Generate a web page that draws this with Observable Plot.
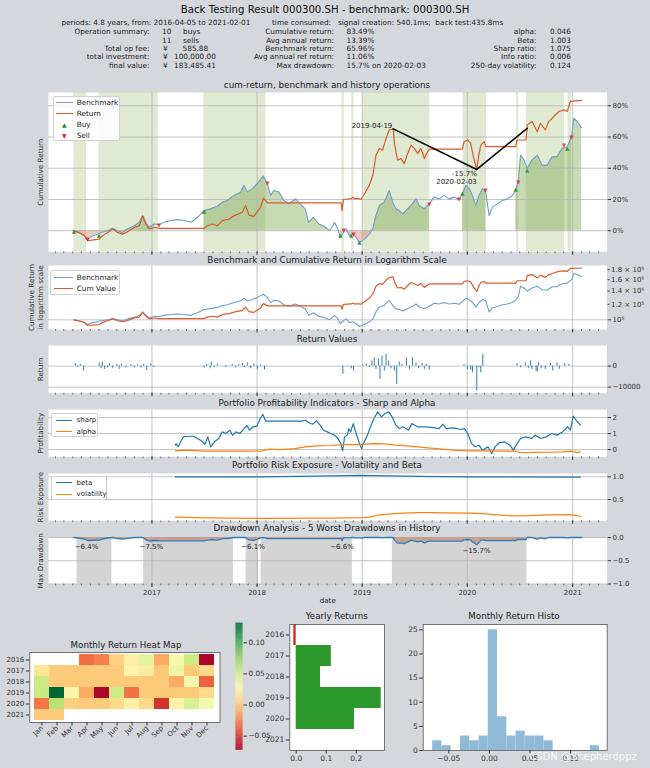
<!DOCTYPE html>
<html><head><meta charset="utf-8">
<script src="https://cdn.jsdelivr.net/npm/d3@7"></script>
<script src="https://cdn.jsdelivr.net/npm/@observablehq/plot@0.6"></script>
<style>
body{margin:0;background:#d4d7dc;}
#root{position:relative;width:650px;height:768px;overflow:hidden;font-family:"DejaVu Sans",sans-serif;color:#222;background:#d4d7dc;}
.t{position:absolute;white-space:pre;line-height:1;}
.lg{position:absolute;background:rgba(255,255,255,0.85);border:1px solid #d0d0d0;border-radius:2px;box-sizing:border-box;}
.lg .ln{position:absolute;height:0;}
svg{overflow:visible;}
</style></head><body><div id="root"></div><script>
// ---------------- DATA ----------------
const benchData = [["2016-04-05",0],["2016-04-18",-0.011],["2016-05-06",-0.022],["2016-05-23",-0.054],["2016-06-09",-0.032],["2016-06-21",-0.026],["2016-07-08",-0.011],["2016-07-31",0],["2016-08-18",0.015],["2016-09-04",0],["2016-09-21",-0.011],["2016-10-09",0.011],["2016-11-01",0.032],["2016-11-18",0.054],["2016-11-30",0.097],["2016-12-11",0.054],["2016-12-22",0.022],["2017-01-09",0.043],["2017-01-26",0.039],["2017-02-12",0.054],["2017-03-07",0.065],["2017-03-31",0.071],["2017-04-23",0.065],["2017-05-16",0.054],["2017-06-08",0.086],["2017-07-01",0.129],["2017-07-24",0.14],["2017-08-16",0.157],["2017-09-03",0.183],["2017-09-20",0.194],["2017-10-13",0.226],["2017-11-05",0.247],["2017-11-17",0.29],["2017-11-28",0.247],["2017-12-16",0.269],["2018-01-02",0.301],["2018-01-23",0.35],["2018-02-06",0.301],["2018-02-17",0.226],["2018-03-01",0.258],["2018-03-18",0.247],["2018-04-04",0.194],["2018-04-21",0.172],["2018-05-14",0.204],["2018-05-31",0.172],["2018-06-17",0.14],["2018-06-29",0.054],["2018-07-16",0.086],["2018-08-03",0.043],["2018-08-20",0.032],["2018-09-10",0],["2018-09-21",0.032],["2018-09-27",0.054],["2018-10-09",0.011],["2018-10-17",-0.043],["2018-10-28",-0.011],["2018-11-06",0.011],["2018-11-18",-0.032],["2018-11-29",-0.022],["2018-12-11",-0.043],["2018-12-22",-0.075],["2019-01-09",-0.054],["2019-01-26",-0.022],["2019-02-07",0.011],["2019-02-18",0.097],["2019-03-02",0.161],["2019-03-19",0.183],["2019-04-05",0.258],["2019-04-17",0.183],["2019-04-28",0.14],["2019-05-10",0.129],["2019-05-22",0.108],["2019-06-08",0.14],["2019-06-25",0.172],["2019-07-07",0.204],["2019-07-18",0.161],["2019-08-05",0.14],["2019-08-22",0.172],["2019-09-08",0.215],["2019-09-26",0.204],["2019-10-13",0.226],["2019-10-30",0.204],["2019-11-17",0.215],["2019-12-04",0.2],["2019-12-15",0.237],["2019-12-27",0.29],["2020-01-08",0.269],["2020-01-19",0.226],["2020-01-31",0.161],["2020-02-11",0.226],["2020-02-23",0.269],["2020-03-05",0.247],["2020-03-17",0.097],["2020-03-28",0.15],["2020-04-15",0.172],["2020-05-02",0.194],["2020-05-19",0.204],["2020-06-06",0.226],["2020-06-17",0.258],["2020-06-26",0.312],["2020-07-04",0.484],["2020-07-16",0.452],["2020-07-27",0.398],["2020-08-13",0.452],["2020-08-31",0.484],["2020-09-17",0.419],["2020-10-04",0.419],["2020-10-22",0.473],["2020-11-08",0.473],["2020-11-25",0.527],["2020-12-13",0.538],["2020-12-28",0.602],["2021-01-05",0.72],["2021-01-17",0.699],["2021-02-01",0.66]];

const returnData = [["2016-04-05",0],["2016-04-23",-0.011],["2016-05-11",-0.032],["2016-05-23",-0.064],["2016-07-02",-0.054],["2016-07-13",-0.032],["2016-07-31",-0.011],["2016-08-18",0.011],["2016-09-04",-0.011],["2016-09-21",-0.022],["2016-10-09",-0.006],["2016-11-01",0.022],["2016-11-18",0.032],["2016-11-30",0.093],["2016-12-11",0.043],["2016-12-22",0.011],["2017-01-09",0.022],["2017-01-26",0.015],["2017-07-01",0.015],["2017-07-12",0.032],["2017-07-30",0.043],["2017-08-16",0.032],["2017-09-03",0.065],["2017-09-26",0.075],["2017-10-13",0.095],["2017-11-11",0.118],["2017-11-22",0.161],["2017-12-04",0.10],["2017-12-21",0.092],["2018-01-13",0.15],["2018-01-23",0.209],["2018-02-06",0.178],["2018-10-20",0.178],["2018-10-23",0.129],["2018-10-28",0.20],["2018-11-24",0.205],["2018-11-29",0.215],["2018-12-05",0.205],["2018-12-22",0.205],["2018-12-28",0.2],["2019-01-09",0.237],["2019-01-26",0.29],["2019-02-07",0.355],["2019-02-18",0.484],["2019-03-02",0.527],["2019-03-13",0.516],["2019-03-25",0.591],["2019-04-05",0.645],["2019-04-19",0.652],["2019-04-23",0.559],["2019-05-04",0.452],["2019-05-16",0.462],["2019-05-27",0.43],["2019-06-08",0.495],["2019-06-20",0.548],["2019-07-01",0.527],["2019-07-13",0.495],["2019-07-24",0.527],["2019-08-05",0.462],["2019-08-16",0.505],["2019-08-22",0.523],["2019-12-15",0.523],["2019-12-21",0.57],["2020-01-02",0.581],["2020-01-13",0.559],["2020-01-21",0.484],["2020-02-03",0.392],["2020-02-10",0.484],["2020-02-17",0.548],["2020-02-29",0.57],["2020-03-05",0.538],["2020-06-17",0.538],["2020-06-22",0.581],["2020-07-23",0.581],["2020-07-27",0.677],["2020-08-13",0.699],["2020-08-31",0.634],["2020-09-11",0.688],["2020-09-28",0.645],["2020-10-10",0.699],["2020-10-27",0.731],["2020-11-14",0.763],["2020-12-02",0.774],["2020-12-13",0.763],["2020-12-24",0.828],["2021-02-01",0.835]];

const holdPeriods = [["2016-04-05","2016-05-19"],["2016-07-01","2017-01-23"],["2017-06-30","2018-02-01"],["2018-10-23","2018-10-31"],["2018-11-26","2018-12-04"],["2019-01-04","2019-08-24"],["2019-12-17","2020-03-08"],["2020-06-20","2020-06-28"],["2020-07-24","2020-12-04"],["2020-12-16","2020-12-28"]];
const fillPeriods = [["2016-04-05","2017-01-23"],["2017-06-30","2018-09-10"],["2018-10-17","2019-08-24"],["2019-12-15","2020-03-08"],["2020-06-17","2021-02-01"]];
const buyPoints = [["2016-04-05",-0.005],["2016-07-01",-0.032],["2017-07-01",0.123],["2018-10-17",-0.032],["2018-11-24",-0.032],["2018-12-22",-0.075],["2019-12-15",0.237],["2020-06-17",0.265],["2020-07-27",0.39],["2020-12-13",0.53]];
const sellPoints = [["2016-05-23",-0.054],["2017-01-26",0.036],["2018-02-06",0.307],["2018-10-29",0.006],["2018-12-02",-0.02],["2019-08-22",0.17],["2019-12-04",0.2],["2020-03-05",0.26],["2020-06-26",0.31],["2020-12-02",0.545],["2020-12-28",0.6]];
const maxDDPath = [["2019-04-19",0.652],["2020-02-03",0.392],["2020-07-27",0.656]];
const maxDDLabel = ["-15.7%\n2020-02-03"];

const returnSpikes = [["2016-04-10",1270],["2016-04-18",-480],["2016-04-27",790],["2016-05-09",-2380],["2016-07-02",1590],["2016-07-08",-1270],["2016-07-13",1900],["2016-07-21",-1590],["2016-07-31",-790],["2016-08-06",950],["2016-08-18",-1270],["2016-09-01",790],["2016-09-09",-1590],["2016-09-17",950],["2016-10-03",-950],["2016-10-20",790],["2016-11-01",-790],["2016-11-12",630],["2016-11-24",-950],["2016-12-03",790],["2016-12-14",-2220],["2016-12-28",1110],["2017-01-06",-630],["2017-07-01",-950],["2017-07-10",790],["2017-07-22",-1270],["2017-07-26",1900],["2017-08-05",-790],["2017-08-16",950],["2017-09-14",-630],["2017-10-07",790],["2017-10-19",-950],["2017-10-30",630],["2017-11-11",1270],["2017-11-19",-790],["2017-11-28",1590],["2017-12-10",-1270],["2017-12-21",950],["2018-01-02",-1590],["2018-01-13",630],["2018-01-27",-1900],["2018-10-26",-3970],["2018-11-24",-1270],["2018-12-02",-2380],["2019-01-03",630],["2019-01-15",950],["2019-01-26",-630],["2019-02-04",2380],["2019-02-12",3970],["2019-02-18",-1590],["2019-02-27",3170],["2019-03-04",-6350],["2019-03-11",4760],["2019-03-19",-2380],["2019-03-25",5550],["2019-04-03",2380],["2019-04-11",-1270],["2019-04-23",-2380],["2019-05-01",-8730],["2019-05-10",1900],["2019-05-19",790],["2019-06-04",3970],["2019-06-14",-1590],["2019-06-25",3970],["2019-07-07",1590],["2019-07-16",-1270],["2019-07-28",1270],["2019-08-05",-1590],["2019-08-13",790],["2019-08-22",-1900],["2019-12-21",790],["2020-01-02",-1590],["2020-01-13",-1900],["2020-01-19",-3170],["2020-02-03",-11900],["2020-02-10",-790],["2020-02-17",-3170],["2020-02-24",5550],["2020-06-22",1270],["2020-07-04",-790],["2020-07-21",1590],["2020-07-31",-1270],["2020-08-08",2380],["2020-08-13",-1590],["2020-08-27",-2380],["2020-08-31",-2860],["2020-09-05",1590],["2020-09-14",-1270],["2020-09-28",-1590],["2020-10-16",1270],["2020-10-24",-2380],["2020-11-08",1590],["2020-11-16",-1590],["2020-12-05",1270],["2020-12-19",790]];

const sharpData = [["2017-03-23",0.27],["2017-03-26",0.375],["2017-04-02",0.17],["2017-04-11",0.48],["2017-04-20",0.79],["2017-05-06",0.83],["2017-05-25",0.83],["2017-06-07",0.69],["2017-06-19",0.58],["2017-07-04",0.33],["2017-07-14",0.79],["2017-07-24",0.17],["2017-08-06",0.48],["2017-08-21",0.69],["2017-09-02",1.1],["2017-09-15",1.0],["2017-09-28",1.2],["2017-10-08",0.9],["2017-10-20",1.1],["2017-11-02",1.0],["2017-11-17",1.3],["2017-11-27",1.5],["2017-12-06",1.2],["2017-12-18",1.42],["2017-12-31",1.46],["2018-01-12",1.94],["2018-01-21",2.2],["2018-01-31",1.77],["2018-06-06",1.77],["2018-06-18",1.83],["2018-07-01",1.67],["2018-07-13",1.58],["2018-07-26",1.79],["2018-08-08",1.52],["2018-08-20",1.2],["2018-09-02",1.1],["2018-09-14",1.0],["2018-09-27",0.9],["2018-10-09",0.69],["2018-10-19",0.37],["2018-10-25",-0.08],["2018-11-01",0.79],["2018-11-10",0.9],["2018-11-16",1.3],["2018-11-22",1.1],["2018-12-01",1.62],["2018-12-11",1.0],["2018-12-23",0.37],["2018-12-30",0.06],["2019-01-05",0.37],["2019-01-17",0.79],["2019-01-30",1.42],["2019-02-11",1.94],["2019-02-24",2.35],["2019-03-09",2.04],["2019-03-21",2.25],["2019-04-03",2.35],["2019-04-15",2.04],["2019-04-28",1.52],["2019-05-10",1.31],["2019-05-23",1.42],["2019-06-11",1.21],["2019-06-23",1.62],["2019-07-12",1.42],["2019-08-06",1.42],["2019-08-31",1.38],["2019-09-25",1.31],["2019-10-08",1.58],["2019-10-20",1.31],["2019-11-14",1.35],["2019-12-09",1.25],["2019-12-22",1.31],["2020-01-03",1.0],["2020-01-16",0.37],["2020-01-28",0.17],["2020-02-10",0.27],["2020-02-23",-0.04],["2020-03-13",0.17],["2020-03-26",-0.25],["2020-04-07",0.17],["2020-04-20",0.42],["2020-05-09",0.48],["2020-05-28",0.27],["2020-06-09",-0.04],["2020-06-22",0.37],["2020-07-04",0.69],["2020-07-23",0.79],["2020-08-11",0.69],["2020-08-24",0.9],["2020-09-12",0.69],["2020-10-01",0.79],["2020-10-20",1.0],["2020-11-08",0.9],["2020-11-27",1.1],["2020-12-15",1.42],["2020-12-24",1.21],["2021-01-03",2.08],["2021-01-13",1.83],["2021-01-28",1.52]];
const alphaData = [["2017-03-23",-0.08],["2017-04-30",-0.04],["2017-07-02",-0.1],["2017-09-02",-0.1],["2017-12-12",-0.1],["2018-01-19",-0.08],["2018-02-13",0.02],["2018-03-22",0.0],["2018-05-12",0.06],["2018-06-18",0.17],["2018-07-26",0.23],["2018-09-14",0.25],["2018-11-03",0.31],["2018-12-23",0.31],["2019-02-11",0.37],["2019-03-21",0.35],["2019-04-28",0.27],["2019-06-17",0.21],["2019-08-06",0.12],["2019-09-25",0.04],["2019-11-14",-0.04],["2020-01-03",-0.08],["2020-03-07",-0.08],["2020-05-09",-0.1],["2020-06-15",-0.1],["2020-07-04",-0.2],["2020-08-18",-0.18],["2020-10-14",-0.17],["2020-11-27",-0.15],["2020-12-27",-0.1],["2021-01-15",-0.19],["2021-01-28",-0.15]];
const betaData = [["2017-03-23",1.0],["2018-01-06",1.0],["2018-05-12",1.01],["2018-09-14",1.02],["2018-12-23",1.03],["2019-04-03",1.02],["2019-07-20",1.01],["2020-01-03",1.0],["2021-01-28",0.995]];
const volData = [["2017-03-23",0.11],["2017-07-02",0.095],["2018-01-06",0.085],["2018-09-14",0.088],["2019-01-05",0.1],["2019-01-30",0.117],["2019-02-24",0.154],["2019-04-03",0.176],["2019-05-23",0.2],["2019-07-12",0.213],["2019-08-31",0.213],["2019-10-20",0.206],["2020-01-03",0.2],["2020-02-23",0.19],["2020-04-14",0.16],["2020-06-03",0.14],["2020-08-05",0.147],["2020-10-14",0.16],["2020-12-21",0.165],["2021-01-15",0.147],["2021-01-28",0.124]];

const worstDDPeriods = [["2016-04-16","2016-08-15"],["2016-12-03","2017-10-11"],["2017-11-24","2018-01-07"],["2018-01-15","2018-11-28"],["2019-04-16","2020-07-26"]];
const worstDDLabels = [["2016-05-19",-0.064,"−6.4%"],["2016-12-30",-0.075,"−7.5%"],["2017-12-18",-0.061,"−6.1%"],["2018-10-23",-0.066,"−6.6%"],["2020-02-02",-0.157,"−15.7%"]];

const yearTickLabels = ["2017","2018","2019","2020","2021"];
const monthNames = ["Jan","Feb","Mar","Apr","May","Jun","Jul","Aug","Sep","Oct","Nov","Dec"];
const heatYears = ["2016","2017","2018","2019","2020","2021"];
const heat2016 = [null,null,null,-0.032,-0.026,0.003,0.019,0.043,-0.012,0.027,0.054,-0.070];
const heat2017 = [0.013,0,0,0,0,0,0.023,0.017,0,0.039,0,0.007];
const heat2018 = [0.054,0,0,0,0,0,0,0,0,-0.012,0.033,-0.036];
const heat2019 = [0.055,0.131,0.027,-0.012,-0.070,0.053,-0.030,0,0,0,0,0.007];
const heat2020 = [-0.029,0.062,0.003,0,0,0.007,0.020,0.007,-0.052,0.022,0.048,0.033];
const heat2021 = [0,0,null,null,null,null,null,null,null,null,null,null];
const heatColorDomain = [-0.0726, 0.131];

const yearlyYears = ["2016","2017","2018","2019","2020","2021"];
const yearlyValues = [-0.008, 0.117, 0.081, 0.283, 0.194, 0.0];

const histEdges = [-0.0699,-0.0585,-0.0471,-0.0356,-0.0242,-0.0128,-0.0014,0.0100,0.0214,0.0328,0.0442,0.0557,0.0671,0.0785,0.0899,0.1013,0.1128,0.1242,0.1356];
const histCounts = [2,1,0,3,2,3,25,7,3,4,3,3,2,0,0,0,0,1];

// ---------------- HELPERS ----------------
const root = document.getElementById("root");
const D = s => new Date(s);
const pts = arr => arr.map(([d, v]) => ({date: D(d), v}));
function txt(s, x, y, {size = 7.3, anchor = "start", color = "#222", parent = root} = {}) {
  const d = document.createElement("div");
  d.className = "t"; d.textContent = s;
  d.style.fontSize = size + "px"; d.style.left = x + "px"; d.style.top = y + "px"; d.style.color = color;
  const tx = anchor === "middle" ? "-50%" : anchor === "end" ? "-100%" : "0";
  d.style.transform = `translate(${tx},-50%)`;
  parent.append(d);
  return d;
}
function place(svg, left, top) {
  svg.style.position = "absolute"; svg.style.left = left + "px"; svg.style.top = top + "px";
  root.append(svg);
}
function legend(left, top, w, h, items, size = 7.3) {
  const box = document.createElement("div");
  box.className = "lg";
  Object.assign(box.style, {left: left + "px", top: top + "px", width: w + "px", height: h + "px"});
  root.append(box);
  for (const it of items) {
    if (it.kind === "line") {
      const l = document.createElement("div");
      l.className = "ln";
      Object.assign(l.style, {left: it.x0 + "px", width: (it.x1 - it.x0) + "px", top: (it.y - 0.7) + "px", borderTop: `1.4px solid ${it.color}`});
      box.append(l);
    } else {
      txt(it.sym, (it.x0 + it.x1) / 2, it.y, {size: 6, anchor: "middle", color: it.color, parent: box});
    }
    txt(it.label, it.tx, it.y, {size, parent: box});
  }
}

const bench = pts(benchData), ret = pts(returnData);
const start = D("2016-04-05"), end = D("2021-02-01");
const pad = (end - start) * 0.05;
const xDomain = [new Date(+start - pad), new Date(+end + pad)];
const yearDates = yearTickLabels.map(y => D(`${y}-01-01`));
const monthDates = d3.utcMonth.range(xDomain[0], xDomain[1]);
const gridColor = "#b4b4b4";
const FONT = "DejaVu Sans";

function timePlot(top, bottom, y, marks, mb = 6) {
  const mt = 3;
  const svg = Plot.plot({
    width: 650, height: bottom - top + mt + mb,
    marginLeft: 48, marginRight: 43.5, marginTop: mt, marginBottom: mb,
    x: {type: "utc", domain: xDomain, axis: null},
    y: {...y, axis: null},
    style: {fontFamily: FONT, fontSize: "7px", color: "#333", background: "transparent", overflow: "visible"},
    marks: [Plot.frame({fill: "white", stroke: "none"}), ...marks]
  });
  place(svg, 0, top - mt);
}
const xTicks = (labels = false) => [
  Plot.axisX({ticks: monthDates, tickSize: 2, tickFormat: () => "", label: null, strokeWidth: 0.6}),
  Plot.axisX({ticks: yearDates, tickSize: 3.5, tickPadding: 2.5, tickFormat: labels ? d3.utcFormat("%Y") : () => "", label: null, fontSize: 7})
];
const gridX = () => Plot.gridX({ticks: yearDates, stroke: gridColor, strokeOpacity: 1, strokeWidth: 0.8});
const gridY = t => Plot.gridY({ticks: t, stroke: gridColor, strokeOpacity: 1, strokeWidth: 0.8});
const yAxis = (t, fmt, size = 3.5) => Plot.axisY({anchor: "right", ticks: t, tickFormat: fmt, tickSize: size, tickPadding: 2, label: null, fontSize: 7});
const yLabel = (s, dx = -8) => Plot.text([s], {frameAnchor: "left", textAnchor: "middle", lineAnchor: "middle", dx, rotate: -90, fontSize: 7.2, fill: "#333", lineHeight: 1.25});
const panelTitle = (s, y, x = 327) => txt(s, x, y, {size: 8.8, anchor: "middle", color: "#1a1a1a"});

// ---------------- HEADER ----------------
txt("Back Testing Result 000300.SH - benchmark: 000300.SH", 325, 10, {size: 10.2, anchor: "middle", color: "#111"});
const R = [22.7, 32.3, 40.7, 49, 57.3, 65.7];
txt("periods: 4.8 years, from: 2016-04-05 to 2021-02-01", 61.4, R[0]);
txt("time consumed:   signal creation: 540.1ms;  back test:435.8ms", 272, R[0]);
const col1Labels = ["Operation summary:", "", "Total op fee:", "total investment:", "final value:"];
const col2Labels = ["Cumulative return:", "Avg annual return:", "Benchmark return:", "Avg annual ref return:", "Max drawdown:"];
const col2Values = ["83.49%", "13.39%", "65.96%", "11.06%", "15.7% on 2020-02-03"];
const col3Labels = ["alpha:", "Beta:", "Sharp ratio:", "Info ratio:", "250-day volatility:"];
const col3Values = ["0.046", "1.003", "1.075", "0.006", "0.124"];
col1Labels.forEach((s, i) => s && txt(s, 149.4, R[i + 1], {anchor: "end"}));
col2Labels.forEach((s, i) => txt(s, 334, R[i + 1], {anchor: "end"}));
col2Values.forEach((s, i) => txt(s, 346.5, R[i + 1]));
col3Labels.forEach((s, i) => txt(s, 536.5, R[i + 1], {anchor: "end"}));
col3Values.forEach((s, i) => txt(s, 550, R[i + 1]));
txt("10", 162, R[1]); txt("buys", 183, R[1]);
txt("11", 162, R[2]); txt("sells", 183, R[2]);
txt("¥", 163, R[3]); txt("585.88", 182.6, R[3]);
txt("¥", 163, R[4]); txt("100,000.00", 174, R[4]);
txt("¥", 163, R[5]); txt("183,485.41", 174, R[5]);

// ---------------- PANEL 1 ----------------
panelTitle("cum-return, benchmark and history operations", 85);
const fillPts = fillPeriods.flatMap(([s, e], k) => bench.filter(p => p.date >= D(s) && p.date <= D(e)).map(p => ({...p, k})));
const p1Ticks = [0, 0.2, 0.4, 0.6, 0.8];
timePlot(92, 251.3, {domain: [-0.135, 0.885]}, [
  Plot.rect(holdPeriods, {x1: d => D(d[0]), x2: d => D(d[1]), fill: "#a8c283", fillOpacity: 0.36}),
  Plot.areaY(fillPts, {x: "date", y1: () => 0, y2: d => Math.max(0, d.v), z: "k", fill: "#7aa64c", fillOpacity: 0.42}),
  Plot.areaY(fillPts, {x: "date", y1: () => 0, y2: d => Math.min(0, d.v), z: "k", fill: "#e2826e", fillOpacity: 0.45}),
  gridY(p1Ticks), gridX(),
  Plot.line(bench, {x: "date", y: "v", stroke: "#6f9fd0", strokeWidth: 1.1}),
  Plot.line(ret, {x: "date", y: "v", stroke: "#dc5a2c", strokeWidth: 1.2}),
  Plot.line(maxDDPath, {x: d => D(d[0]), y: d => d[1], stroke: "black", strokeWidth: 1.6}),
  Plot.text([maxDDPath[0]], {x: d => D(d[0]), y: d => d[1], text: d => d[0], textAnchor: "end", dx: -1, dy: -3, fontSize: 7, fill: "#222"}),
  Plot.text([maxDDPath[1]], {x: d => D(d[0]), y: d => d[1], text: () => maxDDLabel[0], textAnchor: "end", lineAnchor: "top", dy: 1, lineHeight: 1.15, fontSize: 7, fill: "#222"}),
  Plot.text(buyPoints, {x: d => D(d[0]), y: d => d[1], text: () => "▲", fill: "#1e8c1e", fillOpacity: 0.85, fontSize: 5.5}),
  Plot.text(sellPoints, {x: d => D(d[0]), y: d => d[1], text: () => "▼", fill: "#e8201c", fillOpacity: 0.8, fontSize: 5.5}),
  yAxis(p1Ticks, d => `${Math.round(d * 100)}%`), ...xTicks(), yLabel("Cumulative Return")
]);
legend(52.7, 96.3, 67.3, 45, [
  {kind: "line", x0: 2.3, x1: 19, y: 5.7, color: "#6f9fd0", label: "Benchmark", tx: 23},
  {kind: "line", x0: 2.3, x1: 19, y: 16.7, color: "#dc5a2c", label: "Return", tx: 23},
  {kind: "sym", sym: "▲", x0: 2.3, x1: 19, y: 27.7, color: "#1e8c1e", label: "Buy", tx: 23},
  {kind: "sym", sym: "▼", x0: 2.3, x1: 19, y: 39, color: "#e8201c", label: "Sell", tx: 23}
]);

// ---------------- PANEL 2 (log) ----------------
panelTitle("Benchmark and Cumulative Return in Logarithm Scale", 259.5);
const initialInvestment = 100000;
const benchVal = bench.map(p => ({date: p.date, v: initialInvestment * (1 + p.v)}));
const retVal = ret.map(p => ({date: p.date, v: initialInvestment * (1 + p.v)}));
const logMajor = [100000], logMinor = [120000, 140000, 160000, 180000];
timePlot(265.3, 329.3, {type: "log", domain: [89300, 189000]}, [
  gridY(logMajor), gridX(),
  Plot.line(benchVal, {x: "date", y: "v", stroke: "#6f9fd0", strokeWidth: 1.1}),
  Plot.line(retVal, {x: "date", y: "v", stroke: "#dc5a2c", strokeWidth: 1.2}),
  yAxis(logMajor, () => "10⁵"),
  yAxis(logMinor, d => `${d / 100000} × 10⁵`, 2),
  ...xTicks(), yLabel("Cumulative Return\nin logarithm scale", -12.5)
]);
legend(50, 270.3, 70, 25, [
  {kind: "line", x0: 3.3, x1: 21.7, y: 6.7, color: "#6f9fd0", label: "Benchmark", tx: 25.7},
  {kind: "line", x0: 3.3, x1: 21.7, y: 17.4, color: "#dc5a2c", label: "Cum Value", tx: 25.7}
]);

// ---------------- PANEL 3 ----------------
panelTitle("Return Values", 338.7);
const spikes = pts(returnSpikes);
timePlot(345.3, 393, {domain: [-12900, 9800]}, [
  gridY([0, -10000]), gridX(),
  Plot.ruleX(spikes, {x: "date", y1: () => 0, y2: "v", stroke: "#2f7bb6", strokeWidth: 1}),
  yAxis([0, -10000], d3.format("d")), ...xTicks(), yLabel("Return")
]);

// ---------------- PANEL 4 ----------------
panelTitle("Portfolio Profitability Indicators - Sharp and Alpha", 402.7);
timePlot(409.3, 456.7, {domain: [-0.46, 2.5]}, [
  gridY([0, 1, 2]), gridX(),
  Plot.line(pts(sharpData), {x: "date", y: "v", stroke: "#1f77b4", strokeWidth: 1.2}),
  Plot.line(pts(alphaData), {x: "date", y: "v", stroke: "#ff7f0e", strokeWidth: 1.2}),
  yAxis([0, 1, 2], d3.format("d")), ...xTicks(), yLabel("Profitability")
]);
legend(51, 413.3, 47, 23.4, [
  {kind: "line", x0: 3.5, x1: 20, y: 6, color: "#1f77b4", label: "sharp", tx: 24.6},
  {kind: "line", x0: 3.5, x1: 20, y: 17.7, color: "#ff7f0e", label: "alpha", tx: 24.6}
], 7);

// ---------------- PANEL 5 ----------------
panelTitle("Portfolio Risk Exposure - Volatility and Beta", 465);
timePlot(472.7, 520, {domain: [0.031, 1.073]}, [
  gridY([0.5, 1.0]), gridX(),
  Plot.line(pts(betaData), {x: "date", y: "v", stroke: "#1f77b4", strokeWidth: 1.2}),
  Plot.line(pts(volData), {x: "date", y: "v", stroke: "#ff7f0e", strokeWidth: 1.2}),
  yAxis([0.5, 1.0], d3.format(".1f")), ...xTicks(), yLabel("Risk Exposure")
]);
legend(51, 476, 56, 24, [
  {kind: "line", x0: 3.5, x1: 20, y: 5.7, color: "#1f77b4", label: "beta", tx: 24.6},
  {kind: "line", x0: 3.5, x1: 20, y: 17.3, color: "#ff7f0e", label: "volatility", tx: 24.6}
], 7);

// ---------------- PANEL 6 ----------------
panelTitle("Drawdown Analysis - 5 Worst Drawdowns in History", 528);
let peak = -Infinity;
const drawdown = ret.map(p => { peak = Math.max(peak, 1 + p.v); return {date: p.date, v: (1 + p.v) / peak - 1}; });
timePlot(536.5, 583, {domain: [-1, 0]}, [
  Plot.rect(worstDDPeriods, {x1: d => D(d[0]), x2: d => D(d[1]), fill: "#d4d4d4"}),
  gridY([0, -0.5, -1]), gridX(),
  Plot.areaY(drawdown, {x: "date", y1: () => 0, y2: "v", fill: "#c79a88", fillOpacity: 0.9}),
  Plot.line(drawdown, {x: "date", y: "v", stroke: "#2f7bb6", strokeWidth: 1.3}),
  Plot.text(worstDDLabels, {x: d => D(d[0]), y: d => d[1], text: d => d[2], dy: 6, fontSize: 7, fill: "#222"}),
  yAxis([0, -0.5, -1], d3.format(".1f")), ...xTicks(true), yLabel("Max Drawdown"),
  Plot.text(["date"], {frameAnchor: "bottom", dy: 19, fontSize: 7.2, fill: "#222"})
], 24);

// ---------------- HEAT MAP ----------------
txt("Monthly Return Heat Map", 126, 645, {size: 8.7, anchor: "middle", color: "#1a1a1a"});
const heatRows = [heat2016, heat2017, heat2018, heat2019, heat2020, heat2021];
const heatCells = heatRows.flatMap((row, i) => row.map((v, j) => ({year: heatYears[i], month: monthNames[j], v}))).filter(d => d.v !== null);
const colorScale = {type: "linear", scheme: "RdYlGn", domain: heatColorDomain};
const hmTop = 652.3, hmBottom = 722.3;
place(Plot.plot({
  width: 225, height: hmBottom - hmTop + 34, marginLeft: 29.3, marginRight: 5.5, marginTop: 4, marginBottom: 30,
  x: {type: "band", domain: monthNames, padding: 0, axis: null},
  y: {type: "band", domain: heatYears, padding: 0, axis: null},
  color: colorScale,
  style: {fontFamily: FONT, fontSize: "7px", color: "#333", background: "transparent", overflow: "visible"},
  marks: [
    Plot.frame({fill: "white", stroke: "none"}),
    Plot.cell(heatCells, {x: "month", y: "year", fill: "v"}),
    Plot.frame({stroke: "#555", strokeWidth: 0.8}),
    Plot.axisX({tickRotate: -45, tickSize: 3.5, tickPadding: 1, fontSize: 7, label: null}),
    Plot.axisY({tickSize: 3.5, tickPadding: 2, fontSize: 7, label: null})
  ]
}), 0, hmTop - 4);

// colorbar
const cbTop = 623.3, cbBottom = 750;
const cbSteps = d3.range(heatColorDomain[0], heatColorDomain[1], 0.001);
place(Plot.plot({
  width: 45, height: cbBottom - cbTop + 8, marginLeft: 5.5, marginRight: 32.5, marginTop: 4, marginBottom: 4,
  x: {domain: [0, 1], axis: null},
  y: {domain: heatColorDomain, axis: null},
  color: colorScale,
  style: {fontFamily: FONT, fontSize: "7px", color: "#333", background: "transparent", overflow: "visible"},
  marks: [
    Plot.rect(cbSteps, {x1: () => 0, x2: () => 1, y1: d => d, y2: d => d + 0.0012, fill: d => d}),
    Plot.axisY({anchor: "right", ticks: [-0.05, 0, 0.05, 0.1], tickFormat: d3.format(".2f"), tickSize: 3.5, tickPadding: 2, fontSize: 7.3, label: null})
  ]
}), 230, cbTop - 4);

// ---------------- YEARLY RETURNS ----------------
txt("Yearly Returns", 336.7, 616, {size: 8.7, anchor: "middle", color: "#1a1a1a"});
const yearly = yearlyYears.map((y, i) => ({year: y, v: yearlyValues[i]}));
const brTop = 624, brBottom = 750;
place(Plot.plot({
  width: 140, height: brBottom - brTop + 22, marginLeft: 34.3, marginRight: 11, marginTop: 4, marginBottom: 18,
  x: {domain: [-0.0213, 0.294], axis: null},
  y: {type: "band", domain: yearlyYears, padding: 0, axis: null},
  style: {fontFamily: FONT, fontSize: "7.5px", color: "#333", background: "transparent", overflow: "visible"},
  marks: [
    Plot.frame({fill: "white", stroke: "none"}),
    Plot.barX(yearly, {x1: () => 0, x2: "v", y: "year", fill: d => d.v < 0 ? "#ee2222" : "#2b982b"}),
    Plot.frame({stroke: "#555", strokeWidth: 0.8}),
    Plot.axisX({ticks: [0, 0.1, 0.2], tickFormat: d3.format(".1f"), tickSize: 3.5, tickPadding: 2, fontSize: 7.5, label: null}),
    Plot.axisY({tickSize: 3.5, tickPadding: 2, fontSize: 7.5, label: null})
  ]
}), 255, brTop - 4);

// ---------------- HISTOGRAM ----------------
txt("Monthly Return Histo", 514, 616, {size: 8.7, anchor: "middle", color: "#1a1a1a"});
const histBins = histCounts.map((c, i) => ({x0: histEdges[i], x1: histEdges[i + 1], count: c}));
place(Plot.plot({
  width: 255, height: brBottom - brTop + 22, marginLeft: 27.7, marginRight: 43.3, marginTop: 4, marginBottom: 18,
  x: {domain: [-0.0815, 0.145], axis: null},
  y: {domain: [0, 26.1], axis: null},
  style: {fontFamily: FONT, fontSize: "7.5px", color: "#333", background: "transparent", overflow: "visible"},
  marks: [
    Plot.frame({fill: "white", stroke: "none"}),
    Plot.rect(histBins, {x1: "x0", x2: "x1", y1: () => 0, y2: "count", fill: "#8fbbd9"}),
    Plot.frame({stroke: "#555", strokeWidth: 0.8}),
    Plot.axisX({ticks: [-0.05, 0, 0.05, 0.1], tickFormat: d3.format(".2f"), tickSize: 3.5, tickPadding: 2, fontSize: 7.5, label: null}),
    Plot.axisY({ticks: [0, 5, 10, 15, 20, 25], tickSize: 3.5, tickPadding: 2, fontSize: 7.5, label: null})
  ]
}), 395, brTop - 4);

// watermark
txt("CSDN @Shepherdppz", 583, 757, {size: 10, anchor: "middle", color: "rgba(255,255,255,0.85)"});
</script></body></html>
